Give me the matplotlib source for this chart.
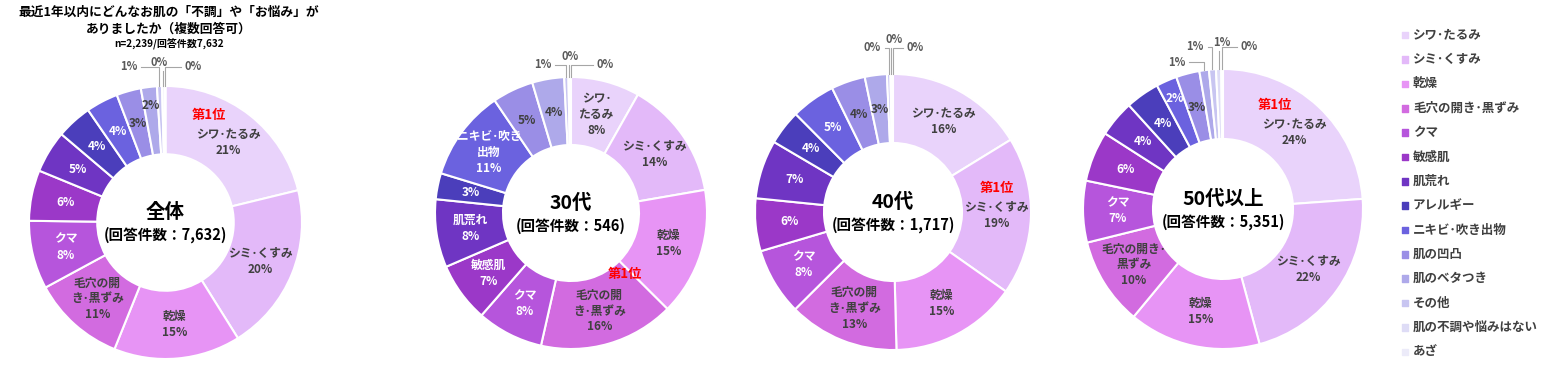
import matplotlib
matplotlib.use('Agg')
import matplotlib.pyplot as plt
import numpy as np

plt.rcParams['font.family'] = ['Noto Sans CJK JP', 'DejaVu Sans']

# categories (legend order = slice order, clockwise from 12 o'clock)
categories = ['シワ･たるみ', 'シミ･くすみ', '乾燥', '毛穴の開き･黒ずみ', 'クマ', '敏感肌',
              '肌荒れ', 'アレルギー', 'ニキビ･吹き出物', '肌の凹凸', '肌のベタつき',
              'その他', '肌の不調や悩みはない', 'あざ']
colors = ['#e9d3fb', '#e3b9f9', '#e794f5', '#d26be0', '#b655dc', '#9b38c8', '#6f35c3',
          '#4b3ebb', '#6b62df', '#9a8ee6', '#aea9ea', '#c8c5f1', '#dedcf6', '#ecebf9']

# shares (%) per group
vals_all = [21.2, 19.9, 15.0, 11.0, 8.1, 6.0, 5.0, 4.2, 3.8, 2.9, 1.9, 0.6, 0.3, 0.1]
vals_30 = [8.2, 14.1, 15.2, 16.1, 7.9, 7.1, 8.1, 3.1, 10.8, 4.9, 3.8, 0.5, 0.2, 0.1]
vals_40 = [16.3, 18.6, 14.9, 13.0, 7.9, 6.2, 6.9, 4.1, 5.2, 4.0, 2.6, 0.4, 0.2, 0.1]
vals_50 = [23.8, 21.9, 15.2, 10.1, 7.1, 5.8, 4.2, 3.9, 2.4, 2.7, 1.1, 0.8, 0.6, 0.2]

group_titles = ['全体', '30代', '40代', '50代以上']
group_counts = ['7,632', '546', '1,717', '5,351']
rank1_index = [0, 3, 1, 0]

# slice names shown inside the ring
names_all = {0: 'シワ･たるみ', 1: 'シミ･くすみ', 2: '乾燥', 3: '毛穴の開\nき･黒ずみ', 4: 'クマ'}
names_30 = {0: 'シワ･\nたるみ', 1: 'シミ･くすみ', 2: '乾燥', 3: '毛穴の開\nき･黒ずみ', 4: 'クマ',
            5: '敏感肌', 6: '肌荒れ', 8: 'ニキビ･吹き\n出物'}
names_40 = {0: 'シワ･たるみ', 1: 'シミ･くすみ', 2: '乾燥', 3: '毛穴の開\nき･黒ずみ', 4: 'クマ'}
names_50 = {0: 'シワ･たるみ', 1: 'シミ･くすみ', 2: '乾燥', 3: '毛穴の開き･\n黒ずみ', 4: 'クマ'}

W, H = 1552, 370
DARK = '#404040'

# donut centres / radii in pixels, external label positions (in radius units)
layout = [
    dict(c=(165.5, 222.5), r=136.5, rank_dx=-14,
         ext=[(-0.27, 1.14), (-0.05, 1.17), (0.20, 1.14)]),
    dict(c=(571, 213), r=136, rank_dx=18,
         ext=[(-0.21, 1.09), (-0.01, 1.15), (0.25, 1.09)]),
    dict(c=(893, 212), r=138, rank_dx=0,
         ext=[(-0.15, 1.19), (0.01, 1.25), (0.16, 1.19)]),
    dict(c=(1223, 209), r=140, rank_dx=-14,
         ext=[(-0.33, 1.05), (-0.20, 1.16), (-0.01, 1.19), (0.19, 1.16)]),
]

fig = plt.figure(figsize=(W / 100, H / 100), dpi=100)

all_vals = [vals_all, vals_30, vals_40, vals_50]
all_names = [names_all, names_30, names_40, names_50]

for g, (vals, names) in enumerate(zip(all_vals, all_names)):
    lay = layout[g]
    cx, cy = lay['c']
    r = lay['r']
    L = 1.35
    ax = fig.add_axes([(cx - L * r) / W, (H - cy - L * r) / H, 2 * L * r / W, 2 * L * r / H])
    wedges, _ = ax.pie(vals, colors=colors, startangle=90, counterclock=False, radius=1.0,
                       wedgeprops=dict(width=0.5, edgecolor='white', linewidth=1.5))
    ax.set_xlim(-L, L)
    ax.set_ylim(-L, L)
    ax.set_aspect('equal')
    ax.axis('off')

    ext_i = 0
    for i, (w, v) in enumerate(zip(wedges, vals)):
        pct = f'{int(v + 0.5)}%'
        ang = np.deg2rad((w.theta1 + w.theta2) / 2)
        if v < 1.5:
            lx, ly = lay['ext'][ext_i]
            ext_i += 1
            sx, sy = np.cos(ang), np.sin(ang)
            ax.text(lx, ly, pct, ha='center', va='center', fontsize=8,
                    fontweight='bold', color='#595959', clip_on=False)
            if lx < sx - 0.04:
                ax.plot([lx + 0.09, sx, sx], [ly, ly, sy], color='#a6a6a6', lw=0.8, clip_on=False)
            elif lx > sx + 0.04:
                ax.plot([lx - 0.09, sx, sx], [ly, ly, sy], color='#a6a6a6', lw=0.8, clip_on=False)
            else:
                ax.plot([sx, sx], [ly - 0.06, sy], color='#a6a6a6', lw=0.8, clip_on=False)
            continue
        tcol = 'white' if 4 <= i <= 8 else DARK
        rr = 0.86 if v < 2.5 else 0.75
        px, py = rr * np.cos(ang), rr * np.sin(ang)
        txt = names[i] + '\n' + pct if i in names else pct
        ax.text(px, py, txt, ha='center', va='center', fontsize=8.5, fontweight='bold',
                color=tcol, linespacing=1.3)
        if i == rank1_index[g]:
            nlines = txt.count('\n') + 1
            ax.annotate('第1位', (px, py), xytext=(lay['rank_dx'], nlines * 7.2 + 5),
                        textcoords='offset points', ha='center', va='center',
                        fontsize=9.5, fontweight='bold', color='#ff0000')

    ax.annotate(group_titles[g], (0, 0), xytext=(0, 7), textcoords='offset points',
                ha='center', va='center', fontsize=14, fontweight='bold', color='black')
    ax.annotate(f'(回答件数：{group_counts[g]})', (0, 0), xytext=(0, -9),
                textcoords='offset points', ha='center', va='center',
                fontsize=10.5, fontweight='bold', color='black')

# title
fig.text(169 / W, 1 - 12 / H, '最近1年以内にどんなお肌の「不調」や「お悩み」が',
         ha='center', va='center', fontsize=9.2, fontweight='bold')
fig.text(169 / W, 1 - 29 / H, 'ありましたか（複数回答可）',
         ha='center', va='center', fontsize=9.2, fontweight='bold')
fig.text(169 / W, 1 - 44 / H, 'n=2,239/回答件数7,632',
         ha='center', va='center', fontsize=7.2, fontweight='bold')

# legend
lax = fig.add_axes([1398 / W, (H - 364) / H, 150 / W, 341 / H])
lax.set_xlim(0, 1)
lax.set_ylim(len(categories) - 0.5, -0.5)
lax.axis('off')
ys = list(range(len(categories)))
lax.scatter([0.047] * len(categories), ys, marker='s', s=22, c=colors)
for y, name in zip(ys, categories):
    lax.text(0.1, y, name, ha='left', va='center', fontsize=9, fontweight='bold', color=DARK)

fig.savefig('out.png', dpi=100)
